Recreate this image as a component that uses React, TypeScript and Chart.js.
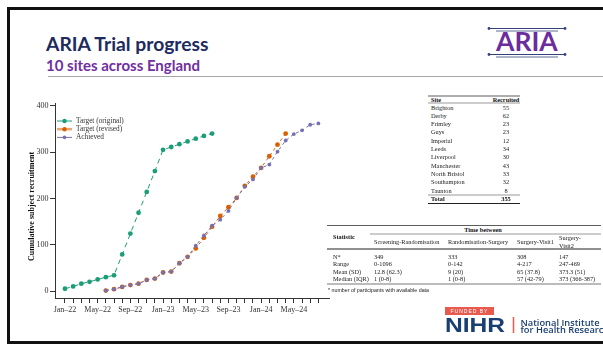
import React, { useEffect, useRef } from 'react';
import { Chart, registerables } from 'chart.js';

Chart.register(...registerables);

// ---------- data ----------
const months = [
  'Jan–22', 'Feb–22', 'Mar–22', 'Apr–22', 'May–22', 'Jun–22', 'Jul–22', 'Aug–22',
  'Sep–22', 'Oct–22', 'Nov–22', 'Dec–22', 'Jan–23', 'Feb–23', 'Mar–23', 'Apr–23',
  'May–23', 'Jun–23', 'Jul–23', 'Aug–23', 'Sep–23', 'Oct–23', 'Nov–23', 'Dec–23',
  'Jan–24', 'Feb–24', 'Mar–24', 'Apr–24', 'May–24', 'Jun–24', 'Jul–24', 'Aug–24',
];
const yTicks = [0, 100, 200, 300, 400];

const targetOriginalStart = 0;
const targetOriginal = [5, 10, 16, 20, 25, 30, 34, 79, 124, 169, 214, 259, 305, 311, 317, 323, 329, 335, 340];

const targetRevisedStart = 5;
const targetRevised = [1, 4, 9, 13, 16, 24, 27, 40, 42, 60, 74, 92, 115, 139, 162, 181, 201, 227, 247, 266, 291, 316, 340];

const achievedStart = 5;
const achieved = [1, 4, 9, 13, 16, 24, 27, 40, 42, 60, 74, 98, 120, 141, 154, 173, 201, 225, 241, 266, 273, 301, 325, 339, 347, 359, 362];

const sites = ['Brighton', 'Derby', 'Frimley', 'Guys', 'Imperial', 'Leeds', 'Liverpool', 'Manchester', 'North Bristol', 'Southampton', 'Taunton'];
const recruited = [55, 62, 23, 23, 12, 34, 30, 43, 33, 32, 8];
const recruitedTotal = 355;

const statNames = ['N*', 'Range', 'Mean (SD)', 'Median (IQR)'];
const colScreeningRand = ['349', '0-1096', '12.8 (62.3)', '1 (0-8)'];
const colRandSurgery = ['333', '0-142', '9 (20)', '1 (0-8)'];
const colSurgeryVisit1 = ['308', '4-217', '65 (37.8)', '57 (42-79)'];
const colSurgeryVisit2 = ['147', '247-469', '373.3 (51)', '373 (366-387)'];

const GREEN = '#1b9e77';
const ORANGE = '#d95f02';
const PURPLE = '#7570b3';
const NAVY = '#1d2b5e';

const toPoints = (vals: number[], start: number) => vals.map((v, i) => ({ x: start + i, y: v }));

// ---------- helpers ----------
const SERIF = '"Liberation Serif", "Times New Roman", serif';

function Txt(props: { x: number; y: number; h?: number; center?: boolean; style?: React.CSSProperties; children: React.ReactNode }) {
  const h = props.h ?? 10;
  return (
    <div
      style={{
        position: 'absolute',
        left: props.x,
        top: props.y - h / 2,
        height: h,
        lineHeight: h + 'px',
        whiteSpace: 'nowrap',
        transform: props.center ? 'translateX(-50%)' : undefined,
        ...props.style,
      }}
    >
      {props.children}
    </div>
  );
}

function RecruitmentChart() {
  const ref = useRef<HTMLCanvasElement | null>(null);
  useEffect(() => {
    if (!ref.current) return;
    const chart = new Chart(ref.current, {
      type: 'line',
      data: {
        datasets: [
          {
            label: 'Target (original)',
            data: toPoints(targetOriginal, targetOriginalStart),
            borderColor: GREEN,
            backgroundColor: GREEN,
            borderWidth: 1,
            borderDash: [5, 4],
            pointRadius: 2.4,
            pointBorderWidth: 0,
            order: 2,
          },
          {
            label: 'Target (revised)',
            data: toPoints(targetRevised, targetRevisedStart),
            borderColor: ORANGE,
            backgroundColor: ORANGE,
            borderWidth: 1,
            borderDash: [3, 3],
            pointRadius: 2.4,
            pointBorderWidth: 0,
            order: 1,
          },
          {
            label: 'Achieved',
            data: toPoints(achieved, achievedStart),
            borderColor: PURPLE,
            backgroundColor: PURPLE,
            borderWidth: 1,
            borderDash: [3, 3],
            pointRadius: 1.9,
            pointBorderWidth: 0,
            order: 0,
          },
        ],
      },
      options: {
        animation: false,
        responsive: false,
        maintainAspectRatio: false,
        layout: { padding: { left: 0, top: 13, right: 11, bottom: 0 } },
        plugins: { legend: { display: false }, tooltip: { enabled: false } },
        scales: {
          x: {
            type: 'linear',
            min: -1.22,
            max: 32.3,
            afterBuildTicks: (scale: any) => {
              scale.ticks = months.map((_, i) => ({ value: i }));
            },
            afterFit: (scale: any) => {
              scale.height = 22;
            },
            ticks: {
              autoSkip: false,
              maxRotation: 0,
              padding: 2,
              color: '#333',
              font: { family: SERIF, size: 8 },
              callback: (v: any) => (Number(v) % 4 === 0 ? months[Number(v)] : ''),
            },
            grid: { display: true, drawOnChartArea: false, drawTicks: true, tickLength: 5, color: '#333', lineWidth: 1 },
            border: { display: true, color: '#333', width: 1 },
          },
          y: {
            type: 'linear',
            min: -15,
            max: 406,
            afterBuildTicks: (scale: any) => {
              scale.ticks = yTicks.map((v) => ({ value: v }));
            },
            afterFit: (scale: any) => {
              scale.width = 43;
            },
            ticks: {
              padding: 1.5,
              color: '#333',
              font: { family: SERIF, size: 8 },
            },
            grid: { display: true, drawOnChartArea: false, drawTicks: true, tickLength: 5, color: '#333', lineWidth: 1 },
            border: { display: true, color: '#333', width: 1 },
            title: {
              display: true,
              text: 'Cumulative subject recruitment\u00a0\u00a0\u00a0\u00a0\u00a0\u00a0',
              color: '#111',
              font: { family: SERIF, size: 8, weight: 'bold' },
              padding: { top: 15.2, bottom: 0 },
            },
          },
        },
      } as any,
    });
    return () => chart.destroy();
  }, []);
  return <canvas ref={ref} width={328} height={230} style={{ position: 'absolute', left: 12, top: 90, width: 328, height: 230 }} />;
}

export default function App() {
  const siteRowY = (i: number) => 107.5 + i * 8.3;
  const statRowY = [256.5, 264, 271.5, 279];
  const statCols = [
    { x: 374, vals: colScreeningRand },
    { x: 448, vals: colRandSurgery },
    { x: 517, vals: colSurgeryVisit1 },
    { x: 559, vals: colSurgeryVisit2 },
  ];
  const tbl: React.CSSProperties = { fontFamily: SERIF, fontSize: 6.3, color: '#222' };
  const tblB: React.CSSProperties = { ...tbl, fontWeight: 'bold', color: '#111' };
  const legend = [
    { label: 'Target (original)', color: GREEN, w: 1, op: 1, r: 2.2 },
    { label: 'Target (revised)', color: ORANGE, w: 2.5, op: 0.55, r: 2.2 },
    { label: 'Achieved', color: PURPLE, w: 1, op: 1, r: 1.8 },
  ];
  return (
    <div style={{ position: 'absolute', left: 0, top: 0, width: 603, height: 344, overflow: 'hidden', background: '#fff' }}>
      <svg width={603} height={344} style={{ position: 'absolute', left: 0, top: 0 }}>
        {/* slide border */}
        <line x1={8.5} y1={7} x2={8.5} y2={344} stroke="#111" strokeWidth={3} />
        <line x1={7} y1={8.5} x2={603} y2={8.5} stroke="#111" strokeWidth={3} />
        <line x1={7} y1={342.5} x2={603} y2={342.5} stroke="#111" strokeWidth={3} />
        {/* title underline */}
        <line x1={48} y1={76.5} x2={603} y2={76.5} stroke="#a6a6a6" strokeWidth={1} />
        {/* ARIA logo lines */}
        <line x1={489} y1={28.5} x2={565} y2={28.5} stroke="#34427a" strokeWidth={1} />
        <circle cx={489} cy={28.5} r={1.4} fill="#34427a" />
        <circle cx={565} cy={28.5} r={1.4} fill="#34427a" />
        <line x1={496} y1={31} x2={558} y2={31} stroke="#34427a" strokeWidth={0.8} />
        <line x1={489} y1={54.5} x2={565} y2={54.5} stroke="#34427a" strokeWidth={1} />
        <circle cx={489} cy={54.5} r={1.4} fill="#34427a" />
        <circle cx={565} cy={54.5} r={1.4} fill="#34427a" />
        <line x1={496} y1={57} x2={558} y2={57} stroke="#34427a" strokeWidth={0.8} />
        {/* sites table rules */}
        <line x1={428} y1={96} x2={520} y2={96} stroke="#333" strokeWidth={0.8} />
        <line x1={428} y1={103} x2={520} y2={103} stroke="#555" strokeWidth={0.6} />
        <line x1={428} y1={195} x2={520} y2={195} stroke="#555" strokeWidth={0.6} />
        <line x1={428} y1={203.5} x2={520} y2={203.5} stroke="#222" strokeWidth={1.2} />
        {/* stats table rules */}
        <line x1={327} y1={225.5} x2={601} y2={225.5} stroke="#333" strokeWidth={0.8} />
        <line x1={370} y1={234} x2={601} y2={234} stroke="#555" strokeWidth={0.6} />
        <line x1={327} y1={249} x2={601} y2={249} stroke="#222" strokeWidth={1.2} />
        <line x1={327} y1={284} x2={601} y2={284} stroke="#555" strokeWidth={0.8} />
        {/* legend keys */}
        {legend.map((l, i) => (
          <g key={i}>
            <line x1={57} y1={121 + i * 8.2} x2={72} y2={121 + i * 8.2} stroke={l.color} strokeWidth={l.w} strokeOpacity={l.op} />
            <circle cx={64.5} cy={121 + i * 8.2} r={l.r} fill={l.color} />
          </g>
        ))}
        {/* NIHR */}
        <rect x={445} y={307} width={49} height={8} fill="#e95a4e" />
        <line x1={513.5} y1={317} x2={513.5} y2={333} stroke="#e95a4e" strokeWidth={1.5} />
      </svg>

      {/* titles */}
      <div style={{ position: 'absolute', left: 46, top: 34.2, fontFamily: 'Lato, sans-serif', fontWeight: 700, fontSize: 19.3, lineHeight: 1, color: NAVY, whiteSpace: 'nowrap' }}>
        ARIA Trial progress
      </div>
      <div style={{ position: 'absolute', left: 46, top: 58, fontFamily: 'Lato, sans-serif', fontWeight: 700, fontSize: 15, lineHeight: 1, color: '#7030a0', whiteSpace: 'nowrap' }}>
        10 sites across England
      </div>
      <div style={{ position: 'absolute', left: 496, top: 28.2, fontFamily: 'Lato, sans-serif', fontWeight: 700, fontSize: 26.5, lineHeight: 1, color: '#6a2c9e', whiteSpace: 'nowrap' }}>
        ARIA
      </div>

      <RecruitmentChart />

      {/* chart legend */}
      {legend.map((l, i) => (
        <Txt key={i} x={76} y={121 + i * 8.2} style={{ fontFamily: SERIF, fontSize: 7.3, color: '#333' }}>
          {l.label}
        </Txt>
      ))}

      {/* sites table */}
      <Txt x={431} y={99.5} style={tblB}>Site</Txt>
      <Txt x={506} y={99.5} center style={tblB}>Recruited</Txt>
      {sites.map((s, i) => (
        <React.Fragment key={s}>
          <Txt x={431} y={siteRowY(i)} style={tbl}>{s}</Txt>
          <Txt x={506} y={siteRowY(i)} center style={tbl}>{recruited[i]}</Txt>
        </React.Fragment>
      ))}
      <Txt x={431} y={199} style={tblB}>Total</Txt>
      <Txt x={506} y={199} center style={tblB}>{recruitedTotal}</Txt>

      {/* stats table */}
      <Txt x={483} y={230} center style={tblB}>Time between</Txt>
      <Txt x={333} y={237} style={tblB}>Statistic</Txt>
      <Txt x={374} y={242} style={tbl}>Screening-Randomisation</Txt>
      <Txt x={448} y={242} style={tbl}>Randomisation-Surgery</Txt>
      <Txt x={517} y={242} style={tbl}>Surgery-Visit1</Txt>
      <Txt x={559} y={238} style={tbl}>Surgery-</Txt>
      <Txt x={559} y={245.5} style={tbl}>Visit2</Txt>
      {statNames.map((n, r) => (
        <React.Fragment key={n}>
          <Txt x={333} y={statRowY[r]} style={tbl}>{n}</Txt>
          {statCols.map((c, k) => (
            <Txt key={k} x={c.x} y={statRowY[r]} style={tbl}>{c.vals[r]}</Txt>
          ))}
        </React.Fragment>
      ))}
      <Txt x={328} y={289.5} style={{ fontFamily: '"Liberation Sans", Arial, sans-serif', fontSize: 5.3, color: '#222' }}>
        * number of participants with available data
      </Txt>

      {/* NIHR logo */}
      <Txt x={469.5} y={311} center h={8} style={{ fontFamily: '"Liberation Sans", Arial, sans-serif', fontSize: 5, letterSpacing: 1, color: '#fff' }}>
        FUNDED BY
      </Txt>
      <div style={{ position: 'absolute', left: 445, top: 314.2, fontFamily: '"Liberation Sans", Arial, sans-serif', fontWeight: 700, fontSize: 21, lineHeight: 1, color: '#193e72', transform: 'scaleX(1.17)', transformOrigin: 'left top', whiteSpace: 'nowrap' }}>
        NIHR
      </div>
      <Txt x={520.5} y={322} h={9} style={{ fontFamily: '"Open Sans", sans-serif', fontWeight: 600, fontSize: 9.3, color: '#193e72' }}>
        National Institute
      </Txt>
      <Txt x={520.5} y={329.5} h={9} style={{ fontFamily: '"Open Sans", sans-serif', fontWeight: 600, fontSize: 9.3, color: '#193e72' }}>
        for Health Research
      </Txt>
    </div>
  );
}
